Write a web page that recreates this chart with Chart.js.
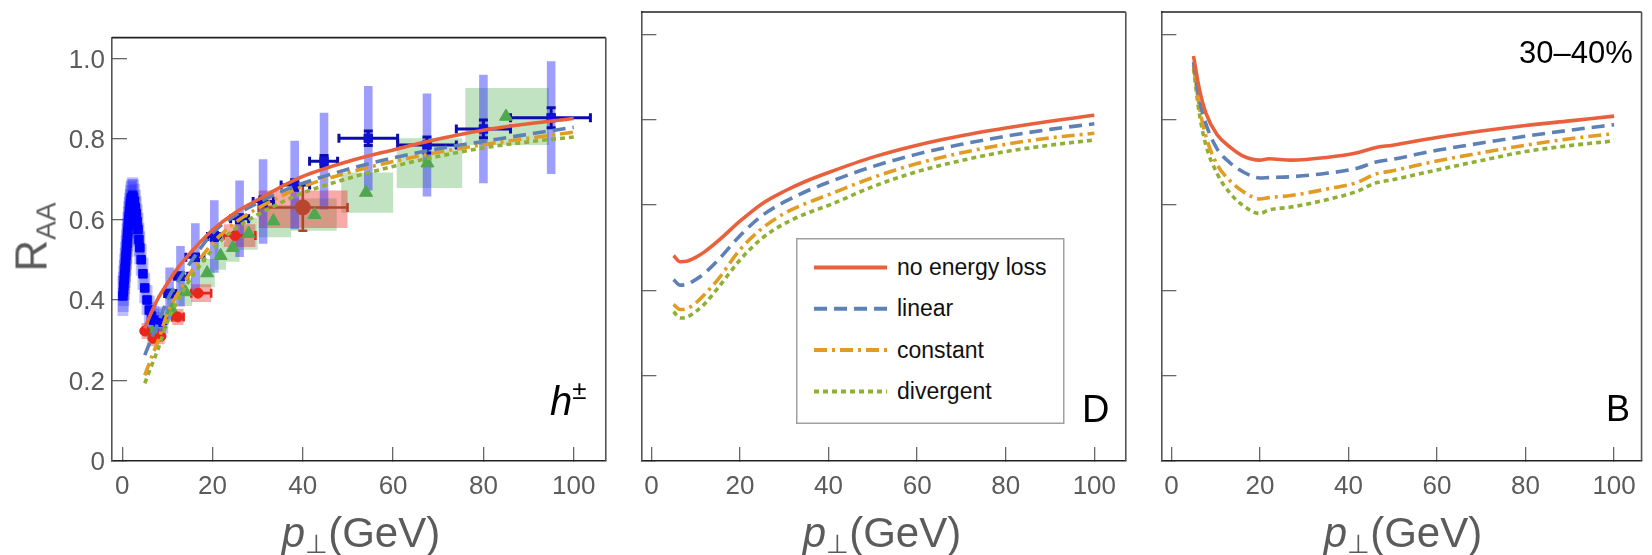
<!DOCTYPE html>
<html>
<head>
<meta charset="utf-8">
<script src="https://cdn.jsdelivr.net/npm/chart.js@4.4.1/dist/chart.umd.min.js"></script>
<style>
  html, body { margin: 0; padding: 0; background: #fff; }
  #page { position: relative; width: 1652px; height: 555px; overflow: hidden;
          font-family: "Liberation Sans", Arial, Helvetica, sans-serif; }
  #page canvas { position: absolute; top: 0; }
  .lbl { position: absolute; white-space: nowrap; line-height: 1; }
  .gray { color: #5b5b5b; }
</style>
</head>
<body>
<div id="page">
  <canvas id="chartH" width="620" height="555" style="left:0"></canvas>
  <canvas id="chartD" width="520" height="555" style="left:620px"></canvas>
  <canvas id="chartB" width="520" height="555" style="left:1140px"></canvas>

  <div class="lbl gray" style="left:35px; top:237px; font-size:44px; transform: translate(-50%,-50%) rotate(-90deg);">R<span style="font-size:28px; vertical-align:-9px">AA</span></div>

  <div class="lbl gray" style="left:361px; top:512px; font-size:42px; transform: translateX(-50%);"><i>p</i><span style="font-size:26px; vertical-align:-6px">⊥</span>(GeV)</div>
  <div class="lbl gray" style="left:882px; top:512px; font-size:42px; transform: translateX(-50%);"><i>p</i><span style="font-size:26px; vertical-align:-6px">⊥</span>(GeV)</div>
  <div class="lbl gray" style="left:1403px; top:512px; font-size:42px; transform: translateX(-50%);"><i>p</i><span style="font-size:26px; vertical-align:-6px">⊥</span>(GeV)</div>

  <div class="lbl" style="left:550px; top:377px; font-size:40px;"><i>h</i><span style="font-size:26px; vertical-align:16px">±</span></div>
  <div class="lbl" style="left:1082px; top:390px; font-size:38px;">D</div>
  <div class="lbl" style="left:1606px; top:391px; font-size:36px;">B</div>
  <div class="lbl" style="left:1519px; top:37px; font-size:31px;">30–40%</div>

  <svg id="legend" width="270" height="188" style="position:absolute; left:796px; top:238px;"></svg>
</div>

<script>
const FONT = '"Liberation Sans", Arial, Helvetica, sans-serif';
const TICK_GRAY = '#5b5b5b';

// ---------- model curves, panel h± ----------
const ptGrid = [5, 6.5, 8, 10, 12, 15, 20, 25, 30, 35, 40, 50, 60, 70, 80, 90, 100];
const hNoLoss    = [0.330, 0.370, 0.405, 0.441, 0.475, 0.516, 0.574, 0.617, 0.649, 0.680, 0.707, 0.744, 0.773, 0.800, 0.822, 0.838, 0.851];
const hLinear    = [0.263, 0.305, 0.345, 0.400, 0.440, 0.491, 0.566, 0.610, 0.641, 0.668, 0.690, 0.725, 0.753, 0.776, 0.794, 0.812, 0.829];
const hConstant  = [0.213, 0.258, 0.300, 0.367, 0.410, 0.466, 0.541, 0.592, 0.628, 0.657, 0.682, 0.716, 0.744, 0.767, 0.786, 0.802, 0.817];
const hDivergent = [0.193, 0.237, 0.280, 0.346, 0.392, 0.450, 0.525, 0.577, 0.612, 0.641, 0.666, 0.702, 0.732, 0.757, 0.778, 0.793, 0.805];

// ---------- model curves, panel D ----------
const dNoLoss    = [0.481, 0.467, 0.468, 0.477, 0.490, 0.515, 0.562, 0.603, 0.632, 0.656, 0.676, 0.712, 0.740, 0.762, 0.780, 0.796, 0.810];
const dLinear    = [0.425, 0.412, 0.414, 0.425, 0.440, 0.470, 0.528, 0.575, 0.607, 0.632, 0.653, 0.690, 0.719, 0.742, 0.761, 0.777, 0.790];
const dConstant  = [0.367, 0.355, 0.357, 0.370, 0.390, 0.425, 0.495, 0.545, 0.580, 0.604, 0.624, 0.664, 0.697, 0.722, 0.742, 0.757, 0.768];
const dDivergent = [0.350, 0.335, 0.337, 0.350, 0.368, 0.405, 0.471, 0.522, 0.556, 0.580, 0.599, 0.643, 0.678, 0.704, 0.725, 0.740, 0.752];

// ---------- model curves, panel B ----------
const ptGridB = [5, 6.3, 7.8, 10.3, 13.2, 16.1, 20, 22, 27, 35, 42, 46, 50, 60, 70, 80, 90, 100];
const bNoLoss    = [0.949, 0.873, 0.815, 0.765, 0.736, 0.715, 0.705, 0.708, 0.705, 0.711, 0.722, 0.734, 0.740, 0.758, 0.773, 0.786, 0.797, 0.808];
const bLinear    = [0.935, 0.848, 0.790, 0.732, 0.699, 0.678, 0.663, 0.664, 0.666, 0.674, 0.686, 0.700, 0.707, 0.728, 0.745, 0.761, 0.775, 0.788];
const bConstant  = [0.927, 0.831, 0.761, 0.695, 0.657, 0.632, 0.614, 0.617, 0.622, 0.637, 0.653, 0.672, 0.680, 0.703, 0.722, 0.740, 0.755, 0.767];
const bDivergent = [0.919, 0.815, 0.740, 0.674, 0.628, 0.599, 0.580, 0.588, 0.595, 0.612, 0.632, 0.651, 0.659, 0.682, 0.704, 0.725, 0.739, 0.750];

// ---------- measured h± (low pT, blue squares) ----------
const aliceX   = [0.15, 0.25, 0.35, 0.45, 0.55, 0.65, 0.75, 0.85, 0.95, 1.05, 1.15, 1.25, 1.35, 1.45, 1.55, 1.65, 1.75, 1.85, 1.95,
                  2.1, 2.3, 2.5, 2.7, 2.9, 3.1, 3.3, 3.5, 3.7, 3.9, 4.2, 4.6, 5.0, 5.5, 6.0, 6.5, 7.0, 8.0, 9.0];
const aliceY   = [0.41, 0.42, 0.435, 0.45, 0.465, 0.48, 0.495, 0.51, 0.525, 0.54, 0.555, 0.57, 0.585, 0.60, 0.61, 0.62, 0.63, 0.64, 0.65,
                  0.655, 0.66, 0.655, 0.645, 0.63, 0.615, 0.595, 0.575, 0.55, 0.53, 0.50, 0.465, 0.43, 0.40, 0.375, 0.36, 0.35, 0.345, 0.35];
const aliceSys = [0.05, 0.05, 0.05, 0.05, 0.05, 0.05, 0.05, 0.05, 0.05, 0.05, 0.048, 0.048, 0.048, 0.046, 0.046, 0.046, 0.045, 0.045, 0.045,
                  0.045, 0.045, 0.045, 0.044, 0.044, 0.043, 0.043, 0.042, 0.042, 0.041, 0.04, 0.04, 0.038, 0.037, 0.036, 0.035, 0.035, 0.034, 0.034];

// ---------- measured h± (blue squares with bins) ----------
const cmsX    = [10.5, 12.9, 16.2, 20.4, 26.0, 31.2, 38.2, 44.7, 54.5, 67.5, 80.0, 95.0];
const cmsY    = [0.416, 0.459, 0.506, 0.558, 0.602, 0.645, 0.686, 0.745, 0.802, 0.785, 0.825, 0.853];
const cmsXLo  = [9.4, 11.6, 14.1, 18.9, 24.0, 29.0, 35.2, 41.5, 48.0, 61.0, 74.0, 86.0];
const cmsXHi  = [11.9, 14.5, 18.1, 21.8, 28.0, 33.5, 41.5, 47.7, 61.0, 74.0, 86.0, 103.7];
const cmsStat = [0.008, 0.008, 0.008, 0.01, 0.01, 0.011, 0.013, 0.014, 0.018, 0.02, 0.022, 0.025];
const cmsSys  = [0.065, 0.075, 0.085, 0.09, 0.095, 0.105, 0.11, 0.12, 0.13, 0.128, 0.135, 0.14];

// ---------- measured h± (red circles) ----------
const redX   = [5.0, 6.8, 8.6, 12.3, 16.8, 25.0];
const redY   = [0.323, 0.305, 0.31, 0.358, 0.417, 0.56];
const redXLo = [4.3, 6.0, 7.8, 11.1, 15.3, 22.5];
const redXHi = [5.7, 7.6, 9.4, 13.6, 19.7, 29.5];
const redSys = [0.02, 0.02, 0.02, 0.02, 0.022, 0.028];

// ---------- measured h± (large dark red circle) ----------
const bigX = [40.0];
const bigY = [0.63];
const bigXLo = [30.2];
const bigXHi = [49.9];
const bigStatLo = [0.572];
const bigStatHi = [0.688];
const bigSysLo = [0.579];
const bigSysHi = [0.672];

// ---------- measured h± (green triangles) ----------
const greenX   = [6.5, 8.5, 11.0, 14.0, 18.8, 21.8, 24.5, 28.0, 33.5, 42.6, 54.0, 67.6, 85.0];
const greenY   = [0.32, 0.34, 0.375, 0.42, 0.467, 0.51, 0.53, 0.565, 0.596, 0.612, 0.667, 0.74, 0.856];
const greenXLo = [5.5, 7.5, 10.0, 12.5, 17.0, 20.5, 23.0, 26.0, 30.2, 37.4, 48.5, 60.8, 76.0];
const greenXHi = [7.5, 9.5, 12.0, 15.5, 20.5, 23.0, 26.0, 30.0, 37.4, 47.5, 60.0, 75.3, 94.5];
const greenSys = [0.03, 0.03, 0.03, 0.035, 0.035, 0.035, 0.035, 0.04, 0.04, 0.04, 0.05, 0.062, 0.071];

const curveStyles = [
  { label: 'no energy loss', color: '#e8613c', dash: [] },
  { label: 'linear', color: '#5e81b5', dash: [13, 7] },
  { label: 'constant', color: '#e19c24', dash: [13, 5, 3, 5] },
  { label: 'divergent', color: '#8fb032', dash: [5, 4] },
];

function pts(xs, ys) {
  return xs.map((x, i) => ({ x: x, y: ys[i] }));
}

function curves(xs, series) {
  return series.map((ys, i) => ({
    type: 'line',
    label: curveStyles[i].label,
    data: pts(xs, ys),
    borderColor: curveStyles[i].color,
    borderDash: curveStyles[i].dash,
    borderWidth: 3.6,
    pointRadius: 0,
    cubicInterpolationMode: 'monotone',
    fill: false,
    order: 0,
  }));
}

// one filled rectangle per uncertainty box
function boxes(x1s, x2s, y1s, y2s, color) {
  return x1s.map((x1, i) => ({
    type: 'line',
    data: [
      { x: x1, y: y1s[i] }, { x: x2s[i], y: y1s[i] },
      { x: x2s[i], y: y2s[i] }, { x: x1, y: y2s[i] }, { x: x1, y: y1s[i] },
    ],
    borderColor: 'transparent',
    borderWidth: 0,
    pointRadius: 0,
    tension: 0,
    fill: 'shape',
    backgroundColor: color,
    order: 4,
  }));
}

// error bars with caps, as broken line segments
function errorBars(x1s, y1s, x2s, y2s, color, capRotation, width) {
  const data = [];
  x1s.forEach((x1, i) => {
    data.push({ x: x1, y: y1s[i] }, { x: x2s[i], y: y2s[i] }, { x: null, y: null });
  });
  return {
    type: 'line',
    data: data,
    borderColor: color,
    borderWidth: width,
    pointStyle: 'line',
    rotation: capRotation,
    pointRadius: 4.5,
    pointBorderWidth: width,
    pointBorderColor: color,
    spanGaps: false,
    tension: 0,
    order: 2,
  };
}

function markers(xs, ys, style, radius, color) {
  return {
    type: 'line',
    data: pts(xs, ys),
    showLine: false,
    pointStyle: style,
    pointRadius: radius,
    pointBackgroundColor: color,
    pointBorderColor: color,
    pointBorderWidth: 1,
    order: 1,
  };
}

const minus = (a, b) => a.map((v, i) => v - b[i]);
const plus = (a, b) => a.map((v, i) => v + b[i]);
const shift = (a, d) => a.map((v) => v + d);

const framePlugin = {
  id: 'frame',
  afterDraw(chart) {
    const { ctx, chartArea: a } = chart;
    ctx.save();
    ctx.lineWidth = 1.6;
    ctx.strokeStyle = '#222';
    ctx.beginPath();
    ctx.moveTo(a.left, a.top);
    ctx.lineTo(a.right, a.top);
    ctx.stroke();
    ctx.strokeStyle = '#555';
    ctx.beginPath();
    ctx.moveTo(a.right, a.top);
    ctx.lineTo(a.right, a.bottom);
    ctx.stroke();
    ctx.restore();
  },
};

function makeChart(id, datasets, xMax, yAxisWidth, rightPad, showYLabels) {
  return new Chart(document.getElementById(id), {
    type: 'line',
    data: { datasets: datasets },
    plugins: [framePlugin],
    options: {
      responsive: false,
      animation: false,
      events: [],
      devicePixelRatio: 1,
      layout: { autoPadding: false, padding: { top: 12, right: rightPad, left: 0, bottom: 0 } },
      plugins: { legend: { display: false }, tooltip: { enabled: false } },
      scales: {
        x: {
          type: 'linear',
          min: -2.26,
          max: xMax,
          afterFit: (s) => { s.height = 94; },
          ticks: {
            stepSize: 20, includeBounds: false, autoSkip: false, maxRotation: 0,
            padding: 24, color: TICK_GRAY, font: { family: FONT, size: 26 },
          },
          grid: { drawOnChartArea: false, tickLength: -14, color: '#666', lineWidth: 1.3 },
          border: { color: '#222', width: 1.6 },
        },
        y: {
          type: 'linear',
          min: 0,
          max: 1.052,
          afterFit: (s) => { s.width = yAxisWidth; },
          ticks: {
            stepSize: 0.2, includeBounds: false, display: showYLabels,
            padding: 22, labelOffset: 2, color: TICK_GRAY, font: { family: FONT, size: 26 },
            callback: (v) => (v === 0 ? '0' : v.toFixed(1)),
          },
          grid: { drawOnChartArea: false, tickLength: -15, color: '#666', lineWidth: 1.3 },
          border: { color: '#555', width: 1.6 },
        },
      },
    },
  });
}

const BAND_HALF = 0.95;
const ALICE_HALF = 1.2;
const panelH = [
  ...curves(ptGrid, [hNoLoss, hLinear, hConstant, hDivergent]),
  markers(bigX, bigY, 'circle', 7.5, '#b8462e'),
  markers(redX, redY, 'circle', 5, '#e8261c'),
  markers(cmsX, cmsY, 'rect', 6, '#1010d6'),
  markers(aliceX, aliceY, 'rect', 6, '#0000ff'),
  markers(greenX, greenY, 'triangle', 7.5, '#4fa84f'),
  errorBars(cmsXLo, cmsY, cmsXHi, cmsY, '#0c0cae', 90, 3),
  errorBars(cmsX, minus(cmsY, cmsStat), cmsX, plus(cmsY, cmsStat), '#0c0cae', 0, 3),
  errorBars(redXLo.slice(3), redY.slice(3), redXHi.slice(3), redY.slice(3), '#dd2a1e', 90, 2.6),
  errorBars(bigXLo, bigY, bigXHi, bigY, '#b0452c', 90, 2.6),
  errorBars(bigX, bigStatLo, bigX, bigStatHi, '#b0452c', 0, 2.6),
  ...boxes(shift(cmsX, -BAND_HALF), shift(cmsX, BAND_HALF), minus(cmsY, cmsSys), plus(cmsY, cmsSys), 'rgba(40,40,255,0.45)'),
  ...boxes(shift(aliceX, -ALICE_HALF), shift(aliceX, ALICE_HALF), minus(aliceY, aliceSys), plus(aliceY, aliceSys), 'rgba(40,40,255,0.3)'),
  ...boxes(redXLo, redXHi, minus(redY, redSys), plus(redY, redSys), 'rgba(240,40,40,0.4)'),
  ...boxes(bigXLo, bigXHi, bigSysLo, bigSysHi, 'rgba(240,40,40,0.4)'),
  ...boxes(greenXLo, greenXHi, minus(greenY, greenSys), plus(greenY, greenSys), 'rgba(76,175,80,0.35)'),
];

makeChart('chartH', panelH, 107.1, 112, 9, true);
makeChart('chartD', curves(ptGrid, [dNoLoss, dLinear, dConstant, dDivergent]), 107.1, 13, 8, false);
makeChart('chartB', curves(ptGridB, [bNoLoss, bLinear, bConstant, bDivergent]), 106.2, 16, 9, false);

// legend for panel D, built from the curve styles
const svgNS = 'http://www.w3.org/2000/svg';
const legend = document.getElementById('legend');
const frame = document.createElementNS(svgNS, 'rect');
frame.setAttribute('x', 0.75); frame.setAttribute('y', 0.75);
frame.setAttribute('width', 267); frame.setAttribute('height', 184.5);
frame.setAttribute('fill', '#fff'); frame.setAttribute('stroke', '#a0a0a0'); frame.setAttribute('stroke-width', 1.5);
legend.appendChild(frame);
curveStyles.forEach((s, i) => {
  const y = 29.5 + i * 41.3;
  const line = document.createElementNS(svgNS, 'line');
  line.setAttribute('x1', 18); line.setAttribute('x2', 91);
  line.setAttribute('y1', y); line.setAttribute('y2', y);
  line.setAttribute('stroke', s.color); line.setAttribute('stroke-width', 4);
  if (s.dash.length) line.setAttribute('stroke-dasharray', s.dash.join(' '));
  legend.appendChild(line);
  const text = document.createElementNS(svgNS, 'text');
  text.setAttribute('x', 101); text.setAttribute('y', y + 7.5);
  text.setAttribute('font-family', FONT); text.setAttribute('font-size', 23);
  text.setAttribute('fill', '#111');
  text.textContent = s.label;
  legend.appendChild(text);
});
</script>
</body>
</html>
